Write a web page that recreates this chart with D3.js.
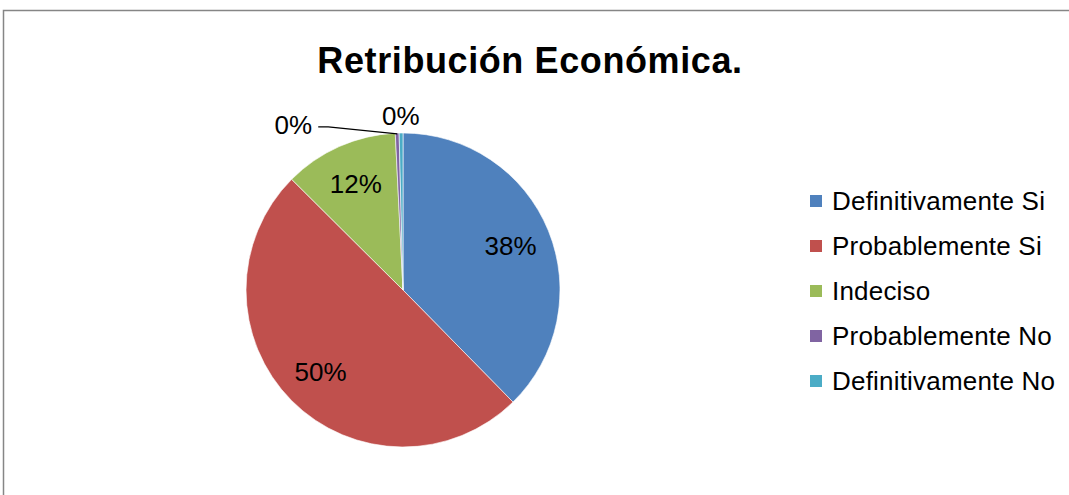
<!DOCTYPE html>
<html><head><meta charset="utf-8">
<script src="https://cdn.jsdelivr.net/npm/d3@7"></script>
<style>body{margin:0;background:#fff}svg{display:block}</style>
</head><body>
<svg id="c" width="1069" height="495"></svg>
<script>
const categories = ["Definitivamente Si","Probablemente Si","Indeciso","Probablemente No","Definitivamente No"];
const values = [96,127,30,1,1];
const colors = ["#4F81BD","#C0504D","#9BBB59","#8064A2","#4BACC6"];
const title = "Retribución Económica.";

const svg = d3.select("#c");
const W = 1069, H = 495;
const font = "Arial, 'Liberation Sans', sans-serif";

// chart frame
svg.append("path").attr("d", `M3.5,${H+5} L3.5,10.5 L${W+5},10.5`)
  .attr("fill","none").attr("stroke","#868686").attr("stroke-width",1.5);

svg.append("text").attr("x",530).attr("y",73).attr("text-anchor","middle")
  .attr("font-family",font).attr("font-weight","bold").attr("font-size",36)
  .attr("letter-spacing",0.6)
  .attr("fill","#000").text(title);

const cx = 403, cy = 290, R = 157;
const total = d3.sum(values);
const pie = d3.pie().sort(null).value(d=>d)(values);
const arc = d3.arc().innerRadius(0).outerRadius(R);
const g = svg.append("g").attr("transform",`translate(${cx},${cy})`);

g.selectAll("path.s").data(pie).join("path").attr("class","s")
  .attr("d",arc).attr("fill",(d,i)=>colors[i])
  .attr("stroke","#fff").attr("stroke-width",0.6);

const fmt = v => Math.round(v/total*100) + "%";
const pt = (a, r) => [Math.sin(a)*r, -Math.cos(a)*r];
const mid = d => (d.startAngle + d.endAngle)/2;

pie.forEach((d,i)=>{
  let p;
  if (i < 3) {
    p = pt(mid(d), R*0.74);
  } else if (i === 4) {
    p = pt(mid(d), R*1.11);
  } else {
    // purple: label pulled to the left with leader line
    const e = pt(mid(d), R*0.995);
    p = [e[0]-104, e[1]-9];
    g.append("path")
      .attr("d", `M${p[0]+25},${e[1]-7} L${p[0]+35},${e[1]-7} L${e[0]},${e[1]}`)
      .attr("fill","none").attr("stroke","#000").attr("stroke-width",1.3);
  }
  g.append("text").attr("x",p[0]).attr("y",p[1]).attr("dy","0.35em")
    .attr("text-anchor","middle").attr("font-family",font).attr("font-size",26)
    .attr("fill","#000").text(fmt(d.value));
});

// legend
const ly = d3.scalePoint().domain(categories).range([201,381]);
const lg = svg.append("g");
categories.forEach((c,i)=>{
  lg.append("rect").attr("x",810).attr("y",ly(c)-6).attr("width",12).attr("height",12)
    .attr("fill",colors[i]);
  lg.append("text").attr("x",832).attr("y",ly(c)).attr("dy","0.35em")
    .attr("font-family",font).attr("font-size",26).attr("letter-spacing",0.2)
    .attr("fill","#000").text(c);
});
</script>
</body></html>
